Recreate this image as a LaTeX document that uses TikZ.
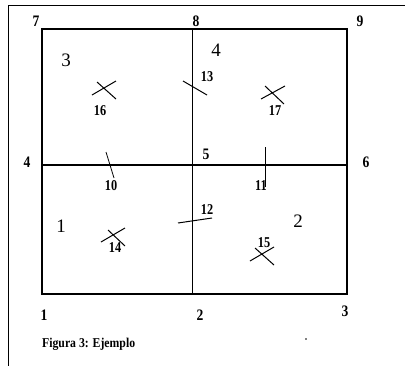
\documentclass[tikz,border=0pt]{standalone}
\usepackage{fontspec}
\setmainfont{Liberation Serif}
\begin{document}
\begin{tikzpicture}[x=1pt,y=-1pt,
  numlab/.style={font=\bfseries\fontsize{15}{15}\selectfont, inner sep=0pt, xscale=0.82},
  cornerlab/.style={font=\bfseries\fontsize{16}{16}\selectfont, inner sep=0pt, xscale=0.85},
  reglab/.style={font=\fontsize{19}{19}\selectfont, inner sep=0pt},
  tick/.style={line width=1pt},
  frame/.style={line width=0.8pt}]
\useasboundingbox (0,0) rectangle (405,367);
% outer frame
\coordinate (ftr) at (405,5);
\coordinate (ftl) at (8,5);
\coordinate (fbl) at (8,366);
\draw[frame] (ftr) -- (ftl) -- (fbl);
% grid corners
\coordinate (p1) at (42,294);
\coordinate (p2) at (192,294);
\coordinate (p3) at (347,294);
\coordinate (p4) at (42,165);
\coordinate (p5) at (192,165);
\coordinate (p6) at (347,165);
\coordinate (p7) at (42,29);
\coordinate (p8) at (192,29);
\coordinate (p9) at (347,29);
\draw[line width=1.2pt] (p1) -- (p3) -- (p9) -- (p7) -- cycle;
\draw[line width=1.6pt] (p4) -- (p6);
\draw[line width=0.8pt] (p8) -- (p2);
% vertex labels
\node[cornerlab] (l7) at (36,21) {7};
\node[cornerlab] (l8) at (196,21) {8};
\node[cornerlab] (l9) at (360,21) {9};
\node[cornerlab] (l4) at (27,162) {4};
\node[cornerlab] (l5) at (206,154) {5};
\node[cornerlab] (l6) at (366,162) {6};
\node[cornerlab] (l1) at (44,315) {1};
\node[cornerlab] (l2) at (200,315) {2};
\node[cornerlab] (l3) at (345,311) {3};
% region labels
\node[reglab] (r3) at (66,60) {3};
\node[reglab] (r4) at (216,50) {4};
\node[reglab] (r1) at (61,226) {1};
\node[reglab] (r2) at (298,221) {2};
% edge marks
\coordinate (m13a) at (183,81); \coordinate (m13b) at (207,95);
\draw[tick] (m13a) -- (m13b);
\node[numlab] (n13) at (207,77) {13};
\coordinate (m10a) at (106,152); \coordinate (m10b) at (114,178);
\draw[line width=0.8pt] (m10a) -- (m10b);
\node[numlab] (n10) at (111,186) {10};
\coordinate (m11a) at (265,147); \coordinate (m11b) at (265,187);
\draw[line width=0.7pt] (m11a) -- (m11b);
\node[numlab] (n11) at (261,186) {11};
\coordinate (m12a) at (178,223); \coordinate (m12b) at (212,218);
\draw[tick] (m12a) -- (m12b);
\node[numlab] (n12) at (207,210) {12};
% crosses (faces)
\coordinate (c16a) at (92,95); \coordinate (c16b) at (116,81);
\coordinate (c16c) at (97,82); \coordinate (c16d) at (116,99);
\draw[tick] (c16a) -- (c16b) (c16c) -- (c16d);
\node[numlab] (n16) at (100,111) {16};
\coordinate (c17a) at (261,99); \coordinate (c17b) at (285,86);
\coordinate (c17c) at (265,86); \coordinate (c17d) at (284,104);
\draw[tick] (c17a) -- (c17b) (c17c) -- (c17d);
\node[numlab] (n17) at (275,111) {17};
\coordinate (c14a) at (101,242); \coordinate (c14b) at (125,228);
\coordinate (c14c) at (108,230); \coordinate (c14d) at (125,246);
\draw[tick] (c14a) -- (c14b) (c14c) -- (c14d);
\node[numlab] (n14) at (115,248) {14};
\coordinate (c15a) at (250,261); \coordinate (c15b) at (274,247);
\coordinate (c15c) at (255,248); \coordinate (c15d) at (274,265);
\draw[tick] (c15a) -- (c15b) (c15c) -- (c15d);
\node[numlab] (n15) at (264,243) {15};
% caption
\node[anchor=west, inner sep=0pt, xscale=0.87, font=\bfseries\fontsize{13.5}{13.5}\selectfont] (cap) at (42,344) {Figura 3: Ejemplo};
\fill (306,339) circle (0.9pt);
\end{tikzpicture}
\end{document}
